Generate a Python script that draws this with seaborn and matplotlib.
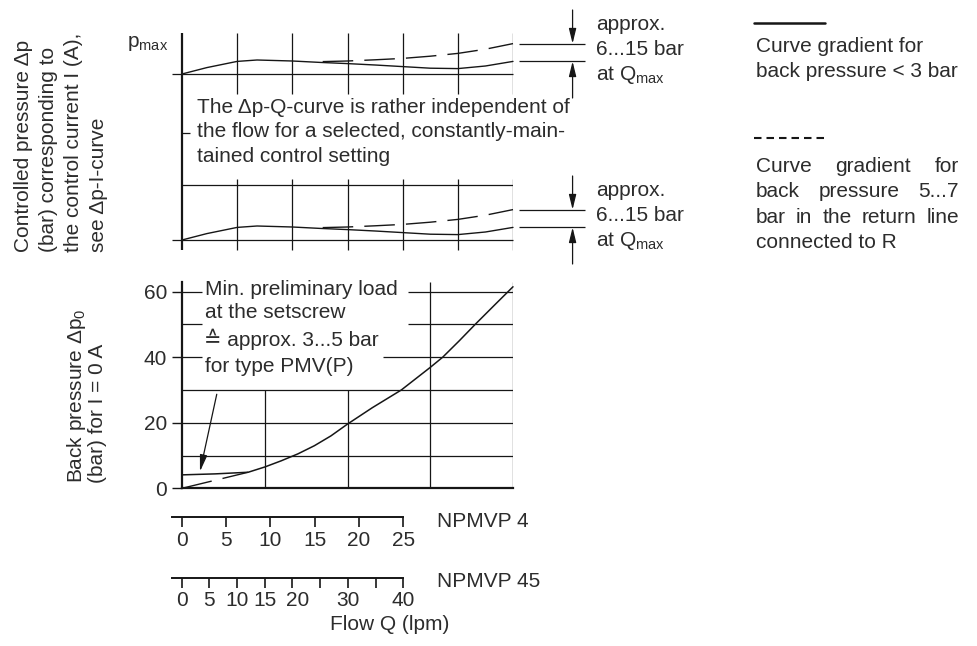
import numpy as np
import pandas as pd
import matplotlib
matplotlib.use("Agg")
import matplotlib.pyplot as plt
from matplotlib.lines import Line2D
import seaborn as sns

# ---------------------------------------------------------------- data
# Δp-Q characteristic: flow in grid divisions, deviation in bar above the set pressure
dpq_flow_solid = [0, 0.45, 1.0, 1.36, 2.0, 2.5, 3.0, 3.5, 4.0, 4.5, 5.0, 5.5, 6.0]
dpq_dev_solid = [0, 3.2, 6.3, 7.0, 6.5, 5.8, 5.2, 4.5, 3.7, 2.9, 2.7, 4.0, 6.3]
dpq_flow_dashed = [2.55, 3.0, 3.5, 4.0, 4.5, 5.0, 5.5, 6.0]
dpq_dev_dashed = [6.2, 6.5, 7.1, 7.8, 8.9, 10.3, 12.4, 15.2]

# back pressure Δp0 at I = 0 A (flow in grid divisions, pressure in bar)
bp_flow_solid = [0, 0.4, 0.8, 1.0, 1.2, 1.4, 1.6, 1.8, 2.0, 2.3, 2.65, 3.0, 3.15, 3.35, 3.55, 3.8, 4.0]
bp_pres_solid = [4.1, 4.4, 4.9, 6.5, 8.4, 10.5, 13.0, 16.0, 19.6, 24.6, 30.0, 36.9, 40.0, 45.0, 50.2, 56.5, 61.5]
bp_flow_dashed = [0, 0.8]
bp_pres_dashed = [0, 4.9]
bp_yticks = [0, 20, 40, 60]

# flow scales (lpm)
npmvp4_ticks = [0, 5, 10, 15, 20, 25]
npmvp45_ticks = [0, 5, 10, 15, 20, 25, 30, 35, 40]
npmvp45_label_pos = [0, 5, 10, 15, 21, 30, 40]
npmvp45_labels = ["0", "5", "10", "15", "20", "30", "40"]

# ---------------------------------------------------------------- style
sns.set_theme(style="white")
plt.rcParams["font.family"] = ["Liberation Sans", "DejaVu Sans"]
plt.rcParams["mathtext.fontset"] = "custom"
plt.rcParams["mathtext.rm"] = "Liberation Sans"

INK = "#161616"
TXT = "#2c2c2c"
FS = 15
W, H = 977, 646

fig = plt.figure(figsize=(W / 100, H / 100), dpi=100)
fig.patch.set_facecolor("white")


def box(x0, y0, x1, y1):
    return [x0 / W, 1 - y1 / H, (x1 - x0) / W, (y1 - y0) / H]


def fx(x):
    return x / W


def fy(y):
    return 1 - y / H


def label(x, y, s, **kw):
    opts = dict(fontsize=FS, color=TXT, va="baseline", ha="left")
    opts.update(kw)
    return fig.text(fx(x), fy(y), s, **opts)


DASH = (0, (22, 8))

# ---------------------------------------------------------------- Δp-Q panels
ax_q = fig.add_axes(box(182, 0, 513, 260))
ax_q.set_xlim(0, 6)
ax_q.set_ylim(-10, 120)
ax_q.axis("off")

panel_base = [83, 0]
panel_base_px = [74, 240]
for i, base in enumerate(panel_base):
    sns.lineplot(x=dpq_flow_solid, y=np.array(dpq_dev_solid) + base, ax=ax_q,
                 color=INK, lw=1.0, clip_on=False)
    sns.lineplot(x=dpq_flow_dashed, y=np.array(dpq_dev_dashed) + base, ax=ax_q,
                 color=INK, lw=1.0, linestyle=DASH, clip_on=False)
    ax_q.hlines(base, -0.18, 6, color=INK, lw=0.9, clip_on=False)
    if i == 0:
        ax_q.vlines(range(1, 7), base - 10, base + 20.5, color=INK, lw=0.9)
    else:
        ax_q.vlines(range(1, 7), base - 5, base + 30.5, color=INK, lw=0.9)
        ax_q.hlines(base + 27.5, 0, 6, color=INK, lw=0.9)

    # dimension lines for the spread at Qmax
    lo = base + dpq_dev_solid[-1]
    hi = base + dpq_dev_dashed[-1]
    ax_q.hlines([lo, hi], 6.1, 7.3, color=INK, lw=0.9, clip_on=False)
    arrow = dict(arrowstyle="-|>,head_length=0.9,head_width=0.22", color=INK,
                 lw=0.9, shrinkA=0, shrinkB=0, mutation_scale=10)
    ax_q.annotate("", xy=(7.08, hi), xytext=(7.08, base + 32),
                  arrowprops=arrow, annotation_clip=False)
    ax_q.annotate("", xy=(7.08, lo), xytext=(7.08, base - 12),
                  arrowprops=arrow, annotation_clip=False)

    yb = panel_base_px[i] - 74
    label(596, 30.5 + yb, "approx.")
    label(596, 55 + yb, "6...15 bar")
    label(596, 80.5 + yb, r"at $\mathregular{Q_{max}}$")

ax_q.vlines(0, -5, 103.5, color=INK, lw=1.6, clip_on=False)
ax_q.hlines(53.5, 0, 0.15, color=INK, lw=0.9)

label(168, 46.7, r"$\mathregular{p_{max}}$", ha="right")
label(197, 113, "The Δp-Q-curve is rather independent of")
label(197, 137, "the flow for a selected, constantly-main-")
label(197, 162, "tained control setting")

fig.text(fx(61), fy(251.7),
         "Controlled pressure Δp\n(bar) corresponding to\nthe control current I (A),\nsee Δp-I-curve",
         rotation=90, ha="center", va="bottom", multialignment="left",
         fontsize=FS, color=TXT, linespacing=1.42)

# ---------------------------------------------------------------- key
fig.add_artist(Line2D([fx(754), fx(825)], [fy(22.7), fy(22.7)], color=INK, lw=1.8,
                      transform=fig.transFigure))
label(756, 51.7, "Curve gradient for")
label(756, 77.3, "back pressure < 3 bar")

fig.add_artist(Line2D([fx(754), fx(828)], [fy(137.7), fy(137.7)], color=INK, lw=1.5,
                      linestyle=(0, (3.6, 2.4)), transform=fig.transFigure))

renderer = fig.canvas.get_renderer()


def justified(text, x0, x1, y):
    words = text.split()
    widths = []
    for w in words:
        t = fig.text(0, 0, w, fontsize=FS)
        widths.append(t.get_window_extent(renderer).width)
        t.remove()
    gap = ((x1 - x0) - sum(widths)) / (len(words) - 1)
    x = x0
    for w, wd in zip(words, widths):
        label(x, y, w)
        x += wd + gap


justified("Curve gradient for", 756, 959, 171.7)
justified("back pressure 5...7", 756, 959, 197.3)
justified("bar in the return line", 756, 959, 222.7)
label(756, 248.3, "connected to R")

# ---------------------------------------------------------------- back pressure panel
ax_b = fig.add_axes(box(182, 281.7, 513, 488.3))
ax_b.set_xlim(0, 4)
ax_b.set_ylim(0, 63.05)
ax_b.set_facecolor("none")
for side in ("top", "right"):
    ax_b.spines[side].set_visible(False)
for side in ("left", "bottom"):
    ax_b.spines[side].set_color(INK)
    ax_b.spines[side].set_linewidth(1.6)
ax_b.set_xticks([])
ax_b.set_yticks(bp_yticks, [str(v) for v in bp_yticks])
ax_b.tick_params(axis="y", left=True, length=7.2, width=1.0, direction="out", pad=3.6,
                 labelsize=FS, color=INK, labelcolor=TXT)

grid = dict(color=INK, lw=0.9)
ax_b.hlines([10, 20, 30], 0, 4, **grid)
ax_b.hlines([40, 50, 60], 0, 0.24, **grid)
ax_b.hlines(40, 2.43, 4, **grid)
ax_b.hlines([50, 60], 2.73, 4, **grid)
ax_b.vlines([1, 2], 0, 30, **grid)
ax_b.vlines([3, 4], 0, 63.05, **grid)

sns.lineplot(x=bp_flow_solid, y=bp_pres_solid, ax=ax_b, color=INK, lw=1.1, clip_on=False)
sns.lineplot(x=bp_flow_dashed, y=bp_pres_dashed, ax=ax_b, color=INK, lw=1.0,
             linestyle=DASH, clip_on=False)

ax_b.annotate("", xy=(0.217, 5.1), xytext=(0.42, 28.7),
              arrowprops=dict(arrowstyle="-|>,head_length=1.0,head_width=0.22",
                              color=INK, lw=0.9, shrinkA=0, shrinkB=0,
                              mutation_scale=10))

label(205, 295, "Min. preliminary load")
label(205, 318, "at the setscrew")
label(204, 346.5, "≙ approx. 3...5 bar")
label(205, 371.5, "for type PMV(P)")

fig.text(fx(86), fy(483), "Back pressure Δ$\\mathregular{p_0}$\n(bar) for I = 0 A",
         rotation=90, ha="center", va="bottom", multialignment="left",
         fontsize=FS, color=TXT, linespacing=1.0)

# ---------------------------------------------------------------- flow scales
def flow_axis(ax, lo, hi):
    ax.set_xlim(lo, hi)
    ax.set_facecolor("none")
    for side in ("top", "right", "left"):
        ax.spines[side].set_visible(False)
    ax.spines["bottom"].set_color(INK)
    ax.spines["bottom"].set_linewidth(1.4)
    ax.set_yticks([])


ax_f4 = fig.add_axes(box(171.7, 505, 403.3, 516.7))
flow_axis(ax_f4, -1.13, 25)
ax_f4.set_xticks(npmvp4_ticks, [str(v) for v in npmvp4_ticks])
ax_f4.tick_params(axis="x", bottom=True, length=7.2, width=1.2, direction="out", pad=3,
                  labelsize=FS, color=INK, labelcolor=TXT)

ax_f45 = fig.add_axes(box(171.7, 566, 403.3, 577.7))
flow_axis(ax_f45, -1.805, 40)
ax_f45.xaxis.remove_overlapping_locs = False
ax_f45.set_xticks(npmvp45_label_pos, npmvp45_labels)
ax_f45.set_xticks(npmvp45_ticks, minor=True)
ax_f45.tick_params(axis="x", which="major", bottom=True, length=0, pad=7.2 + 2.4,
                   labelsize=FS, labelcolor=TXT)
ax_f45.tick_params(axis="x", which="minor", bottom=True, length=7.2, width=1.2,
                   direction="out", color=INK)

label(436.7, 527.3, "NPMVP 4")
label(436.7, 587.3, "NPMVP 45")
label(330, 630, "Flow Q (lpm)")

fig.savefig("out.png", dpi=100, facecolor="white")
